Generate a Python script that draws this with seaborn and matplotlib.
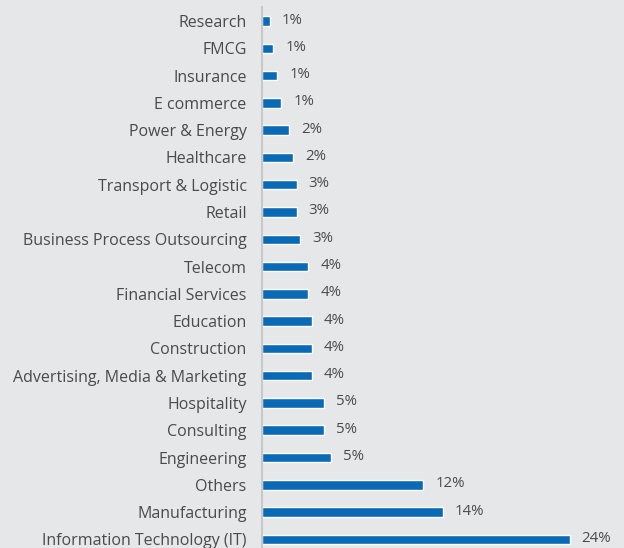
import matplotlib
matplotlib.use("Agg")
import matplotlib.pyplot as plt
import seaborn as sns
import pandas as pd

# Share of respondents by industry (percent)
industries = [
    "Research", "FMCG", "Insurance", "E commerce", "Power & Energy",
    "Healthcare", "Transport & Logistic", "Retail",
    "Business Process Outsourcing", "Telecom", "Financial Services",
    "Education", "Construction", "Advertising, Media & Marketing",
    "Hospitality", "Consulting", "Engineering", "Others",
    "Manufacturing", "Information Technology (IT)",
]
shares = [
    0.59, 0.88, 1.18, 1.47, 2.06,
    2.36, 2.65, 2.65,
    2.95, 3.54, 3.54,
    3.83, 3.83, 3.83,
    4.72, 4.72, 5.31, 12.39,
    13.86, 23.60,
]

df = pd.DataFrame({"industry": industries, "share": shares})

bg = "#e6e7e9"
bar_color = "#0a6ab6"
text_color = "#4a4a4a"

sns.set_theme(style="white")
plt.rcParams["font.family"] = ["Open Sans", "DejaVu Sans"]

fig = plt.figure(figsize=(6.24, 5.48), dpi=100, facecolor=bg)
ax = fig.add_axes([262 / 624, -5 / 548, 362 / 624, (553 - 7.4) / 548])
ax.set_facecolor(bg)

sns.barplot(data=df, y="industry", x="share", orient="h", color=bar_color,
            width=0.35, saturation=1, ax=ax)

ax.set_xlim(0, 362 / 13.03)
ax.set_ylim(len(industries) - 0.5, -0.5)
ax.set_xlabel("")
ax.set_ylabel("")
ax.set_xticks([])
ax.tick_params(axis="y", length=0, pad=11, labelsize=11.5, labelcolor=text_color)

for side in ["top", "right", "bottom"]:
    ax.spines[side].set_visible(False)
ax.spines["left"].set_color("#c8c8c8")
ax.spines["left"].set_linewidth(1.5)

# Percentage labels just past the end of each bar
for i, v in enumerate(shares):
    ax.annotate(f"{v:.0f}%", xy=(v, i), xytext=(12, 1), textcoords="offset pixels",
                va="center", ha="left", fontsize=10.8, color=text_color)

fig.savefig("out.png", dpi=100, facecolor=bg)
